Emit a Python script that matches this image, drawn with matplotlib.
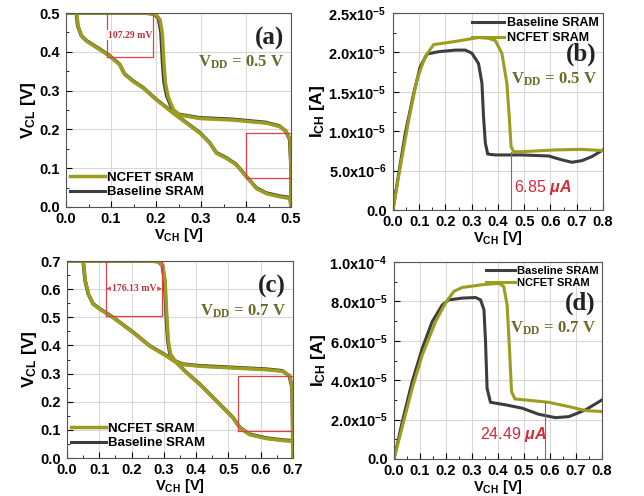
import matplotlib
matplotlib.use("Agg")
import matplotlib.pyplot as plt
from matplotlib.ticker import AutoMinorLocator

plt.rcParams['font.family'] = ['Liberation Sans', 'DejaVu Sans']
plt.rcParams['font.weight'] = 'bold'
plt.rcParams['axes.labelweight'] = 'bold'
plt.rcParams['mathtext.fontset'] = 'custom'
plt.rcParams['mathtext.bf'] = 'Liberation Sans:bold'
plt.rcParams['mathtext.rm'] = 'Liberation Serif:bold'
plt.rcParams['mathtext.it'] = 'Liberation Sans:italic'
plt.rcParams['mathtext.default'] = 'bf'

OLIVE = '#9c9d1f'
DARK = '#3d3d3d'
RED = '#e0404a'
VDDC = '#6a6a28'

# ---- (a) butterfly, VDD = 0.5 V ----
a_nc_x1 = [0, 0.179, 0.2, 0.209, 0.214, 0.218, 0.221, 0.227, 0.239, 0.253, 0.298, 0.372, 0.446, 0.476, 0.49, 0.498, 0.5, 0.5]
a_nc_y1 = [0.5, 0.5, 0.496, 0.483, 0.448, 0.362, 0.319, 0.284, 0.25, 0.237, 0.228, 0.224, 0.216, 0.207, 0.194, 0.172, 0.1, 0]
a_nc_x2 = [0.024, 0.027, 0.035, 0.046, 0.076, 0.098, 0.12, 0.131, 0.15, 0.172, 0.201, 0.239, 0.268, 0.298, 0.32, 0.335, 0.357, 0.379, 0.401, 0.424, 0.446, 0.476, 0.498, 0.5]
a_nc_y2 = [0.5, 0.466, 0.44, 0.427, 0.405, 0.388, 0.366, 0.341, 0.323, 0.306, 0.276, 0.241, 0.216, 0.19, 0.164, 0.138, 0.125, 0.108, 0.078, 0.047, 0.034, 0.026, 0.022, 0.0]
a_bl_x1 = [0, 0.176, 0.197, 0.206, 0.211, 0.215, 0.218, 0.224, 0.236, 0.25, 0.296, 0.37, 0.444, 0.474, 0.488, 0.497, 0.5, 0.5]
a_bl_y1 = [0.5, 0.5, 0.497, 0.485, 0.45, 0.364, 0.321, 0.286, 0.252, 0.239, 0.230, 0.226, 0.218, 0.209, 0.196, 0.174, 0.1, 0]
a_bl_x2 = [0.023, 0.026, 0.034, 0.045, 0.075, 0.097, 0.119, 0.13, 0.149, 0.171, 0.2, 0.238, 0.267, 0.297, 0.319, 0.334, 0.356, 0.378, 0.4, 0.423, 0.445, 0.475, 0.498, 0.5]
a_bl_y2 = [0.5, 0.467, 0.442, 0.429, 0.407, 0.39, 0.368, 0.343, 0.325, 0.308, 0.278, 0.243, 0.218, 0.192, 0.166, 0.14, 0.127, 0.11, 0.08, 0.049, 0.036, 0.028, 0.024, 0.0]
a_ticks = [0.0, 0.1, 0.2, 0.3, 0.4, 0.5]

# ---- (b) current, VDD = 0.5 V ----
b_bl_x = [0, 0.022, 0.047, 0.079, 0.104, 0.13, 0.174, 0.237, 0.276, 0.301, 0.326, 0.339, 0.345, 0.352, 0.361, 0.39, 0.491, 0.593, 0.644, 0.682, 0.72, 0.758, 0.8]
b_bl_y = [0, 4.66e-6, 9.75e-6, 1.48e-5, 1.82e-5, 1.98e-5, 2.01e-5, 2.03e-5, 2.03e-5, 1.99e-5, 1.86e-5, 1.61e-5, 1.19e-5, 8.5e-6, 7.1e-6, 6.99e-6, 6.99e-6, 6.86e-6, 6.36e-6, 6.06e-6, 6.27e-6, 6.78e-6, 7.63e-6]
b_nc_x = [0, 0.028, 0.06, 0.091, 0.123, 0.155, 0.237, 0.326, 0.364, 0.39, 0.415, 0.434, 0.443, 0.45, 0.46, 0.491, 0.618, 0.72, 0.8]
b_nc_y = [0, 5.5e-6, 1.14e-5, 1.65e-5, 1.95e-5, 2.10e-5, 2.14e-5, 2.19e-5, 2.18e-5, 2.15e-5, 1.99e-5, 1.61e-5, 1.19e-5, 8.05e-6, 7.4e-6, 7.4e-6, 7.63e-6, 7.7e-6, 7.54e-6]
b_mark_x, b_mark_y = 0.451, 7.4e-6
b_yticks = [0, 5e-6, 1e-5, 1.5e-5, 2e-5, 2.5e-5]
b_ylabels = ['0.0', '5.0x10$^{-6}$', '1.0x10$^{-5}$', '1.5x10$^{-5}$', '2.0x10$^{-5}$', '2.5x10$^{-5}$']

# ---- (c) butterfly, VDD = 0.7 V ----
c_nc_x1 = [0, 0.247, 0.283, 0.297, 0.304, 0.309, 0.314, 0.321, 0.335, 0.36, 0.412, 0.515, 0.618, 0.669, 0.69, 0.698, 0.7]
c_nc_y1 = [0.7, 0.7, 0.698, 0.683, 0.629, 0.51, 0.415, 0.368, 0.344, 0.332, 0.326, 0.32, 0.314, 0.308, 0.291, 0.249, 0]
c_nc_x2 = [0.051, 0.057, 0.067, 0.082, 0.103, 0.144, 0.206, 0.257, 0.309, 0.34, 0.371, 0.412, 0.463, 0.515, 0.536, 0.566, 0.618, 0.669, 0.7, 0.7]
c_nc_y2 = [0.7, 0.629, 0.581, 0.546, 0.528, 0.498, 0.445, 0.397, 0.362, 0.338, 0.302, 0.261, 0.202, 0.142, 0.107, 0.083, 0.069, 0.062, 0.059, 0]
c_bl_x1 = [0, 0.245, 0.281, 0.295, 0.302, 0.307, 0.312, 0.319, 0.333, 0.358, 0.41, 0.513, 0.616, 0.667, 0.688, 0.697, 0.7]
c_bl_y1 = [0.7, 0.7, 0.699, 0.685, 0.631, 0.512, 0.417, 0.37, 0.346, 0.334, 0.328, 0.322, 0.316, 0.31, 0.293, 0.251, 0]
c_bl_x2 = [0.050, 0.056, 0.066, 0.081, 0.102, 0.143, 0.205, 0.256, 0.308, 0.339, 0.37, 0.411, 0.462, 0.514, 0.535, 0.565, 0.617, 0.668, 0.7, 0.7]
c_bl_y2 = [0.7, 0.631, 0.583, 0.548, 0.53, 0.5, 0.447, 0.399, 0.364, 0.34, 0.304, 0.263, 0.204, 0.144, 0.109, 0.085, 0.071, 0.064, 0.061, 0]
c_ticks = [0.0, 0.1, 0.2, 0.3, 0.4, 0.5, 0.6, 0.7]

# ---- (d) current, VDD = 0.7 V ----
d_bl_x = [0, 0.032, 0.07, 0.109, 0.147, 0.186, 0.211, 0.262, 0.314, 0.333, 0.346, 0.352, 0.358, 0.371, 0.429, 0.493, 0.557, 0.621, 0.672, 0.736, 0.8]
d_bl_y = [0, 1.9e-5, 3.93e-5, 5.63e-5, 6.98e-5, 7.83e-5, 8.08e-5, 8.17e-5, 8.2e-5, 8.08e-5, 7.58e-5, 5.97e-5, 3.59e-5, 2.88e-5, 2.75e-5, 2.58e-5, 2.27e-5, 2.1e-5, 2.15e-5, 2.49e-5, 3.0e-5]
d_nc_x = [0, 0.032, 0.07, 0.109, 0.16, 0.198, 0.23, 0.262, 0.339, 0.403, 0.422, 0.435, 0.444, 0.452, 0.465, 0.519, 0.595, 0.672, 0.736, 0.8]
d_nc_y = [0, 1.64e-5, 3.59e-5, 5.29e-5, 6.98e-5, 7.92e-5, 8.51e-5, 8.71e-5, 8.85e-5, 8.92e-5, 8.76e-5, 7.83e-5, 5.63e-5, 3.42e-5, 3.05e-5, 2.98e-5, 2.88e-5, 2.66e-5, 2.46e-5, 2.41e-5]
d_mark_x, d_mark_y = 0.58, 2.88e-5
d_yticks = [0, 2e-5, 4e-5, 6e-5, 8e-5, 1e-4]
d_ylabels = ['0.0', '2.0x10$^{-5}$', '4.0x10$^{-5}$', '6.0x10$^{-5}$', '8.0x10$^{-5}$', '1.0x10$^{-4}$']

i_xticks = [0.0, 0.1, 0.2, 0.3, 0.4, 0.5, 0.6, 0.7, 0.8]


def style(ax, xt, yt, ylabels=None):
    ax.set_xlim(xt[0], xt[-1])
    ax.set_ylim(yt[0], yt[-1])
    ax.set_xticks(xt, [f'{v:.1f}' for v in xt], fontweight='bold')
    ax.set_yticks(yt, ylabels if ylabels else [f'{v:.1f}' for v in yt], fontweight='bold')
    ax.xaxis.set_minor_locator(AutoMinorLocator(2))
    ax.yaxis.set_minor_locator(AutoMinorLocator(2))
    ax.tick_params(which='both', direction='in', labelsize=10.5)
    ax.tick_params(axis='x', pad=3.5)
    ax.tick_params(axis='y', pad=4.5)
    ax.tick_params(which='major', length=4)
    ax.tick_params(which='minor', length=2.5)
    ax.grid(True, which='major', color='#d8d8d8', lw=0.8)
    ax.set_axisbelow(True)
    for s in ax.spines.values():
        s.set_color('#555555')


fig = plt.figure(figsize=(6.44, 4.96), dpi=100)
axa = fig.add_axes([0.1025, 0.5827, 0.3494, 0.391])
axb = fig.add_axes([0.6102, 0.5766, 0.326, 0.397])
axc = fig.add_axes([0.104, 0.0766, 0.351, 0.397])
axd = fig.add_axes([0.6118, 0.0746, 0.323, 0.397])


def butterfly(ax, vdd, ticks, nc1, nc2, bl1, bl2, lab, box1, box2, mv):
    style(ax, ticks, ticks)
    ax.plot(*bl1, color=DARK, lw=2.6)
    ax.plot(*bl2, color=DARK, lw=2.6)
    ax.plot(*nc1, color=OLIVE, lw=2.5)
    ax.plot(*nc2, color=OLIVE, lw=2.5)
    hn, = ax.plot([], [], color=OLIVE, lw=2.5, label='NCFET SRAM')
    hb, = ax.plot([], [], color=DARK, lw=2.2, label='Baseline SRAM')
    ax.legend(handles=[hn, hb], loc='lower left', frameon=False, fontsize=9.5,
              handlelength=2.6, handletextpad=0.2, borderaxespad=0.1, labelspacing=0.2,
              bbox_to_anchor=(-0.01, 0.01))
    for (x0, x1, y0, y1) in (box1, box2):
        ax.plot([x0, x1, x1, x0, x0], [y0, y0, y1, y1, y0], color=RED, lw=0.9)
    x0, x1, y0, y1 = box1
    ym = y0 + (y1 - y0) * 0.5
    ax.annotate('', xy=(x0, ym), xytext=(x1, ym),
                arrowprops=dict(arrowstyle='<->', color=RED, lw=0.8, shrinkA=0, shrinkB=0))
    ax.text((x0 + x1) / 2, ym, mv, color='#c0303a', fontsize=7, family='Liberation Serif',
            ha='center', va='center', bbox=dict(fc='white', ec='none', pad=0.5))
    ax.text(0.97, 0.87, lab, transform=ax.transAxes, ha='right', va='center',
            fontsize=18, family='Liberation Serif', color='#222222')
    ax.text(0.97, 0.745, r'V$_{\mathrm{DD}}$ = %.1f V' % vdd, transform=ax.transAxes,
            ha='right', va='center', fontsize=12, family='Liberation Serif', color=VDDC)
    ax.set_xlabel(r'V$_{\mathbf{CH}}$ [V]', fontsize=10.5, labelpad=0)
    ax.set_ylabel(r'V$_{\mathbf{CL}}$ [V]', fontsize=12.5, labelpad=1)


def current(ax, blx, bly, ncx, ncy, yt, ylab, lab, vdd, mx, my, txt, tx, ty, fs):
    style(ax, i_xticks, yt, ylab)
    ax.plot(blx, bly, color=DARK, lw=2.2, label='Baseline SRAM')
    ax.plot(ncx, ncy, color=OLIVE, lw=2.2, label='NCFET SRAM')
    ax.plot([mx, mx], [0, my], color=RED, lw=0.8)
    ax.text(tx, ty, txt, color='#d42a3a', fontsize=11.5, fontweight='normal', ha='center', va='center')
    ax.legend(loc='upper right', frameon=False, fontsize=fs, handlelength=2.6,
              handletextpad=0.2, borderaxespad=0.1, labelspacing=0.2, bbox_to_anchor=(1.01, 1.01))
    ax.text(0.97, 0.79, lab, transform=ax.transAxes, ha='right', va='center',
            fontsize=18, family='Liberation Serif', color='#222222')
    ax.text(0.97, 0.665, r'V$_{\mathrm{DD}}$ = %.1f V' % vdd, transform=ax.transAxes,
            ha='right', va='center', fontsize=12, family='Liberation Serif', color=VDDC)
    ax.set_xlabel(r'V$_{\mathbf{CH}}$ [V]', fontsize=10.5, labelpad=0)
    ax.set_ylabel(r'I$_{\mathbf{CH}}$ [A]', fontsize=12.5, labelpad=1)


butterfly(axa, 0.5, a_ticks, (a_nc_x1, a_nc_y1), (a_nc_x2, a_nc_y2), (a_bl_x1, a_bl_y1), (a_bl_x2, a_bl_y2),
          '(a)', (0.092, 0.194, 0.386, 0.5), (0.4, 0.5, 0.075, 0.19), '107.29 mV')
butterfly(axc, 0.7, c_ticks, (c_nc_x1, c_nc_y1), (c_nc_x2, c_nc_y2), (c_bl_x1, c_bl_y1), (c_bl_x2, c_bl_y2),
          '(c)', (0.122, 0.294, 0.504, 0.7), (0.53, 0.7, 0.097, 0.29), '176.13 mV')
current(axb, b_bl_x, b_bl_y, b_nc_x, b_nc_y, b_yticks, b_ylabels, '(b)', 0.5,
        b_mark_x, b_mark_y, r'6.85 $\mathit{\mu A}$', 0.57, 2.8e-6, 9)
current(axd, d_bl_x, d_bl_y, d_nc_x, d_nc_y, d_yticks, d_ylabels, '(d)', 0.7,
        d_mark_x, d_mark_y, r'24.49 $\mathit{\mu A}$', 0.46, 1.22e-5, 8)

fig.savefig('out.png', dpi=100)
